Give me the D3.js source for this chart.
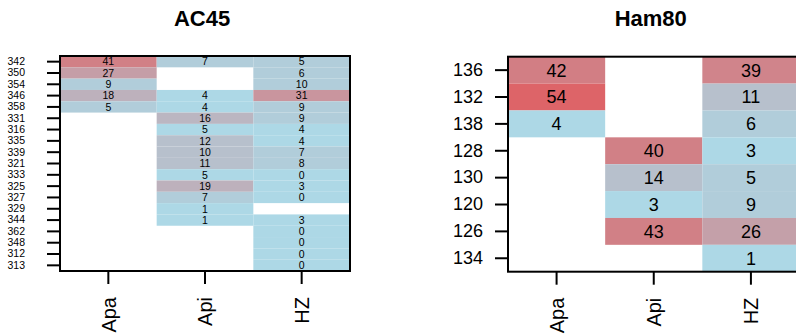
<!DOCTYPE html>
<html>
<head>
<meta charset="utf-8">
<script src="https://cdn.jsdelivr.net/npm/d3@7"></script>
<style>
  body { margin: 0; background: #fff; }
  text { font-family: "Liberation Sans", Arial, sans-serif; fill: #000; }
</style>
</head>
<body>
<div id="chart"></div>
<script>
const columns = ['Apa', 'Api', 'HZ'];

// AC45: labels shown in the cells and the (binned) shade of each cell
const ac45Rows = ['342', '350', '354', '346', '358', '331', '316', '335', '339', '321',
  '333', '325', '327', '329', '344', '362', '348', '312', '313'];
const ac45Apa = [41, 27, 9, 18, 5, null, null, null, null, null,
  null, null, null, null, null, null, null, null, null];
const ac45Api = [7, null, null, 4, 4, 16, 5, 12, 10, 11,
  5, 19, 7, 1, 1, null, null, null, null];
const ac45HZ = [5, 6, 10, 31, 9, 9, 4, 4, 7, 8,
  0, 3, 0, null, 3, 0, 0, 0, 0];
const ac45ApaShade = [41, 27, 5, 18, 5, null, null, null, null, null,
  null, null, null, null, null, null, null, null, null];
const ac45ApiShade = [5, null, null, 0, 0, 16, 0, 11, 11, 11,
  0, 18, 5, 0, 0, null, null, null, null];
const ac45HZShade = [5, 5, 5, 31, 5, 5, 0, 0, 5, 5,
  0, 0, 0, null, 0, 0, 0, 0, 0];

// Ham80
const ham80Rows = ['136', '132', '138', '128', '130', '120', '126', '134'];
const ham80Apa = [42, 54, 4, null, null, null, null, null];
const ham80Api = [null, null, null, 40, 14, 3, 43, null];
const ham80HZ = [39, 11, 6, 3, 5, 9, 26, 1];
const ham80ApaShade = [42, 54, 0, null, null, null, null, null];
const ham80ApiShade = [null, null, null, 41, 11, 0, 41, null];
const ham80HZShade = [39, 11, 5, 0, 5, 5, 26, 0];

const width = 796;
const height = 334;

const svg = d3.select('#chart')
  .append('svg')
  .attr('width', width)
  .attr('height', height);

const color = d3.scaleLinear()
  .domain([0, 54])
  .range(['#add8e6', '#dd6468'])
  .interpolate(d3.interpolateRgb)
  .clamp(true);

function toCells(rows, series, shades) {
  const cells = [];
  rows.forEach((row, i) => {
    series.forEach((values, j) => {
      if (values[i] !== null) {
        cells.push({ row, col: columns[j], value: values[i], shade: shades[j][i] });
      }
    });
  });
  return cells;
}

const panels = [
  {
    title: 'AC45',
    rows: ac45Rows,
    cells: toCells(ac45Rows, [ac45Apa, ac45Api, ac45HZ],
      [ac45ApaShade, ac45ApiShade, ac45HZShade]),
    box: { left: 60, right: 350, top: 56, bottom: 271 },
    cellFont: 10.5,
    yFont: 10.5,
    yPad: 22
  },
  {
    title: 'Ham80',
    rows: ham80Rows,
    cells: toCells(ham80Rows, [ham80Apa, ham80Api, ham80HZ],
      [ham80ApaShade, ham80ApiShade, ham80HZShade]),
    box: { left: 508, right: 799.5, top: 56.7, bottom: 271.7 },
    cellFont: 18,
    yFont: 18,
    yPad: 12
  }
];

for (const p of panels) {
  const x = d3.scaleBand()
    .domain(columns)
    .range([p.box.left, p.box.right]);

  const y = d3.scaleBand()
    .domain(p.rows)
    .range([p.box.top, p.box.bottom]);

  const g = svg.append('g');

  // tiles
  g.append('g')
    .selectAll('rect')
    .data(p.cells)
    .enter()
      .append('rect')
      .attr('x', (d) => x(d.col))
      .attr('y', (d) => y(d.row))
      .attr('width', x.bandwidth())
      .attr('height', y.bandwidth())
      .attr('fill', (d) => color(d.shade));

  g.append('g')
    .selectAll('text')
    .data(p.cells)
    .enter()
      .append('text')
      .attr('x', (d) => x(d.col) + x.bandwidth() / 2)
      .attr('y', (d) => y(d.row) + y.bandwidth() / 2)
      .attr('dy', '0.36em')
      .attr('text-anchor', 'middle')
      .style('font-size', `${p.cellFont}px`)
      .text((d) => d.value);

  // frame
  g.append('rect')
    .attr('x', p.box.left)
    .attr('y', p.box.top)
    .attr('width', p.box.right - p.box.left)
    .attr('height', p.box.bottom - p.box.top)
    .attr('fill', 'none')
    .attr('stroke', '#000')
    .attr('stroke-width', 2);

  const yAxis = d3.axisLeft(y)
    .tickSizeOuter(0)
    .tickSizeInner(13)
    .tickPadding(p.yPad);

  const yg = g.append('g')
    .attr('transform', `translate(${p.box.left}, 0)`)
    .call(yAxis);
  yg.select('.domain').remove();
  yg.selectAll('line').attr('stroke', '#000').attr('stroke-width', 2);
  yg.selectAll('text')
    .attr('fill', '#000')
    .style('font-size', `${p.yFont}px`)
    .style('font-family', '"Liberation Sans", Arial, sans-serif');

  const xAxis = d3.axisBottom(x)
    .tickSizeOuter(0)
    .tickSizeInner(13);

  const xg = g.append('g')
    .attr('transform', `translate(0, ${p.box.bottom})`)
    .call(xAxis);
  xg.select('.domain').remove();
  xg.selectAll('line').attr('stroke', '#000').attr('stroke-width', 2);
  xg.selectAll('text')
    .attr('fill', '#000')
    .attr('transform', 'translate(0, 26) rotate(-90)')
    .attr('x', 0)
    .attr('y', 0)
    .attr('dy', '0.36em')
    .attr('text-anchor', 'end')
    .style('font-size', '20px')
    .style('font-family', '"Liberation Sans", Arial, sans-serif');

  svg.append('text')
    .attr('x', (p.box.left + p.box.right) / 2 - 3)
    .attr('y', 26)
    .attr('text-anchor', 'middle')
    .style('font-size', '22px')
    .style('font-weight', 'bold')
    .text(p.title);
}
</script>
</body>
</html>
